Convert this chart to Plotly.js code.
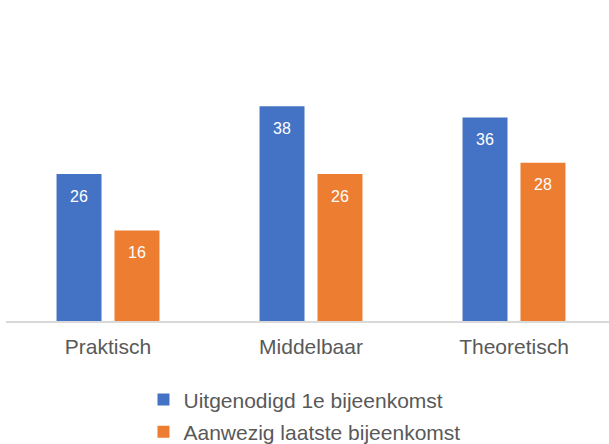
<!DOCTYPE html>
<html>
<head>
<meta charset="utf-8">
<script src="https://cdn.plot.ly/plotly-3.0.1.min.js"></script>
<style>html,body{margin:0;padding:0;background:#fff;}#chart{width:609px;height:444px;}</style>
</head>
<body>
<div id="chart"></div>
<script>
const categories = ["Praktisch", "Middelbaar", "Theoretisch"];
const seriesNames = ["Uitgenodigd 1e bijeenkomst", "Aanwezig laatste bijeenkomst"];
const uitgenodigd = [26, 38, 36];
const aanwezig = [16, 26, 28];

const FONT = "Liberation Sans, Arial, sans-serif";
const colors = ["#4472C4", "#ED7D31"];
const seriesValues = [uitgenodigd, aanwezig];

const traces = seriesValues.map((vals, i) => ({
  type: "bar",
  name: seriesNames[i],
  x: categories,
  y: vals,
  marker: {color: colors[i]},
  legendgroup: "g" + i,
  hoverinfo: "x+y"
}));

const annotations = [];
seriesValues.forEach((vals, i) => {
  vals.forEach((v, j) => {
    annotations.push({
      x: categories[j], y: v, xref: "x", yref: "y",
      text: String(v), showarrow: false,
      xshift: i === 0 ? -29 : 29, yshift: -22,
      yanchor: "middle", xanchor: "center",
      font: {family: FONT, size: 16, color: "#ffffff"}
    });
  });
});

const layout = {
  width: 609, height: 444,
  margin: {l: 6, r: 0, t: 95, b: 123, autoexpand: false},
  paper_bgcolor: "#ffffff", plot_bgcolor: "#ffffff",
  barmode: "group",
  bargap: 0.429,
  bargroupgap: 0.224,
  font: {family: FONT, color: "#595959"},
  xaxis: {
    type: "category",
    range: [-0.5025, 2.468],
    showline: true, linecolor: "#D9D9D9", linewidth: 1.5,
    ticks: "", showgrid: false, zeroline: false,
    ticklabelstandoff: 6,
    tickfont: {family: FONT, size: 21, color: "#595959"},
    automargin: false
  },
  yaxis: {
    range: [0, 40], visible: false, showgrid: false, zeroline: false
  },
  showlegend: true,
  legend: {
    orientation: "v",
    x: 0.228, xanchor: "left",
    y: -0.258, yanchor: "top",
    traceorder: "grouped",
    tracegroupgap: 2,
    font: {family: FONT, size: 21, color: "#595959"},
    bgcolor: "rgba(0,0,0,0)"
  },
  annotations: annotations
};

Plotly.newPlot("chart", traces, layout, {displayModeBar: false, staticPlot: true});
</script>
</body>
</html>
